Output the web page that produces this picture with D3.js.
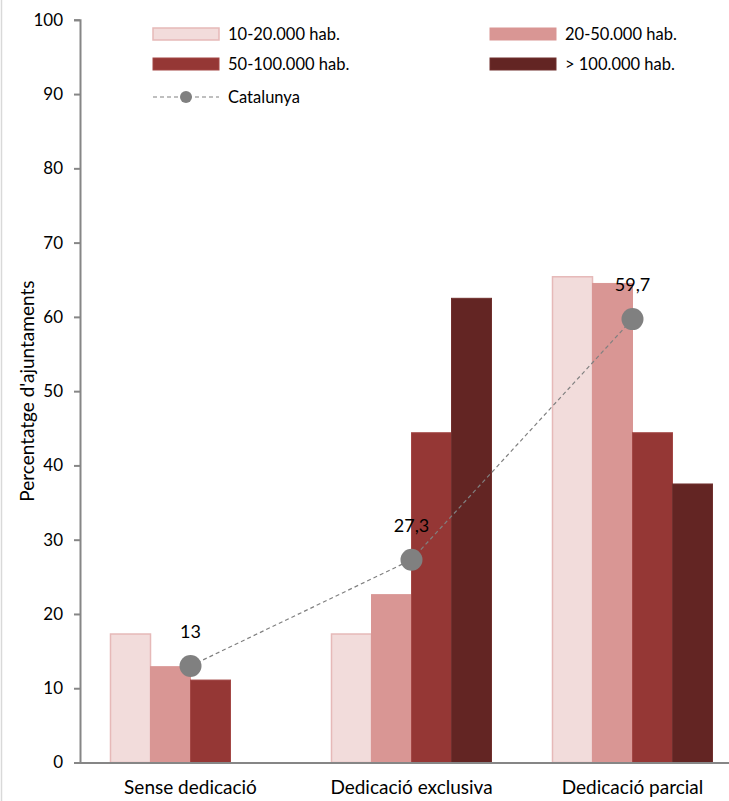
<!DOCTYPE html>
<html><head><meta charset="utf-8">
<script src="https://cdn.jsdelivr.net/npm/d3@7"></script>
<style>
html,body{margin:0;padding:0;background:#fff;overflow:hidden}
text{font-family:Lato,"Open Sans",sans-serif;fill:#000}
</style></head>
<body>
<script>
const categories = ["Sense dedicació", "Dedicació exclusiva", "Dedicació parcial"];
const seriesNames = ["10-20.000 hab.", "20-50.000 hab.", "50-100.000 hab.", "> 100.000 hab."];
const s1 = [17.3, 17.3, 65.4];
const s2 = [12.9, 22.6, 64.5];
const s3 = [11.1, 44.4, 44.4];
const s4 = [0, 62.5, 37.5];
const catalunya = [13, 27.3, 59.7];
const catalunyaLabels = ["13", "27,3", "59,7"];
const yTicks = [0, 10, 20, 30, 40, 50, 60, 70, 80, 90, 100];
const seriesValues = [s1, s2, s3, s4];
const fills = ["#F2DCDB", "#D99694", "#953735", "#632523"];
const strokes = ["#E6B9B8", "#D99694", "#A34745", "#70302E"];

const W = 729, H = 801;
const svg = d3.select("body").append("svg").attr("width", W).attr("height", H);

// outer frame (left edge visible)
svg.append("rect").attr("x", 1.5).attr("y", -5).attr("width", W + 10).attr("height", H + 10)
  .attr("fill", "none").attr("stroke", "#D9D9D9").attr("stroke-width", 1.5);

const x0 = d3.scaleBand().domain(categories).range([80, 743]).padding(0);
const y = d3.scaleLinear().domain([0, 100]).range([762.5, 19.8]);
const barW = 40;

// bars
seriesValues.forEach((vals, si) => {
  svg.append("g").selectAll("rect").data(vals.map((v, i) => ({v, c: categories[i]})).filter(d => d.v > 0))
    .join("rect")
    .attr("x", d => x0(d.c) + x0.bandwidth() / 2 - 2 * barW + si * barW)
    .attr("y", d => y(d.v))
    .attr("width", barW)
    .attr("height", d => y(0) - y(d.v))
    .attr("fill", fills[si])
    .attr("stroke", strokes[si])
    .attr("stroke-width", si === 0 ? 1.5 : 1);
});

// y axis
const yAxis = svg.append("g").attr("transform", "translate(80,0)")
  .call(d3.axisLeft(y).tickValues(yTicks).tickSize(6).tickPadding(11).tickFormat(d3.format("d")));
yAxis.select(".domain").attr("stroke", "#868686").attr("stroke-width", 2);
yAxis.selectAll(".tick line").attr("stroke", "#868686").attr("stroke-width", 2);
yAxis.selectAll(".tick text").style("font-size", "17px").attr("fill", "#000");

// x axis
const xAxis = svg.append("g").attr("transform", `translate(0,${y(0)})`)
  .call(d3.axisBottom(x0).tickSize(0).tickPadding(15));
xAxis.select(".domain").attr("stroke", "#868686").attr("stroke-width", 2);
xAxis.selectAll(".tick text").style("font-size", "19px").attr("fill", "#000").attr("dy", "0.85em");

// y title
svg.append("text").attr("transform", `translate(34,${y(50)}) rotate(-90)`)
  .attr("text-anchor", "middle").style("font-size", "19px").text("Percentatge d'ajuntaments");

// Catalunya line
const cx = c => x0(c) + x0.bandwidth() / 2;
svg.append("path")
  .datum(catalunya.map((v, i) => [cx(categories[i]), y(v)]))
  .attr("d", d3.line())
  .attr("fill", "none").attr("stroke", "#808080").attr("stroke-width", 1.2).attr("stroke-dasharray", "4,3");
svg.append("g").selectAll("circle").data(catalunya).join("circle")
  .attr("cx", (d, i) => cx(categories[i])).attr("cy", d => y(d)).attr("r", 11).attr("fill", "#808080");
svg.append("g").selectAll("text").data(catalunya).join("text")
  .attr("x", (d, i) => cx(categories[i])).attr("y", d => y(d) - 28)
  .attr("text-anchor", "middle").style("font-size", "18px")
  .text((d, i) => catalunyaLabels[i]);

// legend
const legPos = [[153, 34], [490, 34], [153, 64], [490, 64]];
seriesNames.forEach((n, i) => {
  const [lx, ly] = legPos[i];
  svg.append("rect").attr("x", lx).attr("y", ly - 6).attr("width", 66).attr("height", 12)
    .attr("fill", fills[i]).attr("stroke", strokes[i]).attr("stroke-width", i === 0 ? 1.5 : 1);
  svg.append("text").attr("x", lx + 75).attr("y", ly).attr("dy", "0.35em").style("font-size", "16.5px").text(n);
});
svg.append("line").attr("x1", 153).attr("x2", 219).attr("y1", 97).attr("y2", 97)
  .attr("stroke", "#808080").attr("stroke-width", 1.2).attr("stroke-dasharray", "4,3");
svg.append("circle").attr("cx", 186).attr("cy", 97).attr("r", 6).attr("fill", "#808080");
svg.append("text").attr("x", 228).attr("y", 97).attr("dy", "0.35em").style("font-size", "16.5px").text("Catalunya");
</script>
</body></html>
